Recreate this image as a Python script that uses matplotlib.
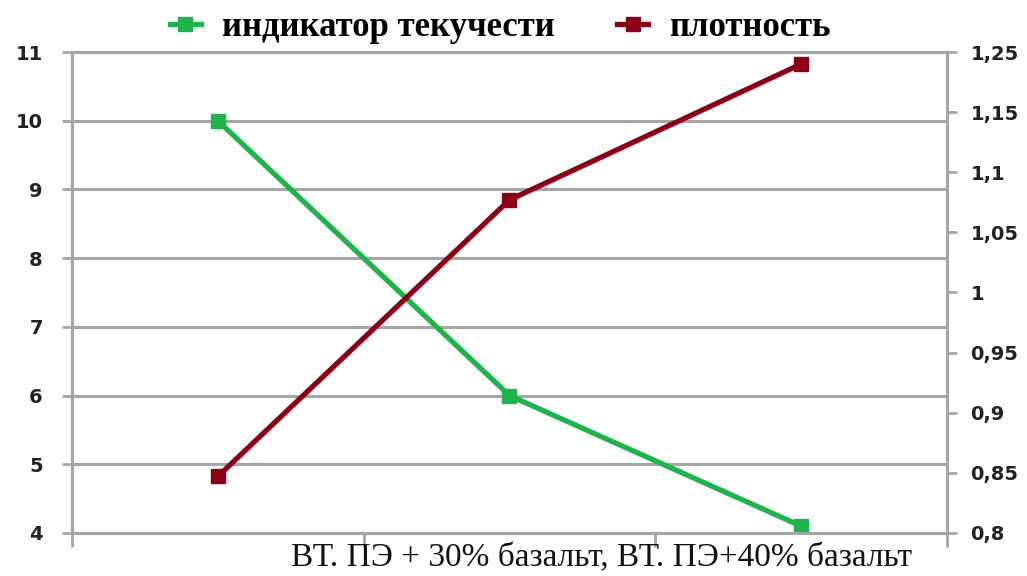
import numpy as np
import matplotlib.pyplot as plt

# data
categories = ["ВТ. ПЭ", "ВТ. ПЭ + 30% базальт", "ВТ. ПЭ+40% базальт"]
melt_index = [10.0, 6.0, 4.1]        # индикатор текучести (left axis)
density = [0.847, 1.077, 1.19]       # плотность (right axis)

left_ticks = [4, 5, 6, 7, 8, 9, 10, 11]
right_ticks = [0.8, 0.85, 0.9, 0.95, 1.0, 1.05, 1.1, 1.15, 1.2]
right_labels = ["0,8", "0,85", "0,9", "0,95", "1", "1,05", "1,1", "1,15", "1,25"]
xlabel_text = "ВТ. ПЭ + 30% базальт, ВТ. ПЭ+40% базальт"

green = '#1fb34b'
red = '#8c0018'
grey = '#a6a6a6'

fig = plt.figure(figsize=(10.27, 5.76), dpi=100)
ax = fig.add_axes([0.0701, 0.0747, 0.852, 0.835])
ax2 = ax.twinx()

x = np.arange(len(categories))
ax.plot(x, melt_index, color=green, lw=3.8, marker='s', ms=10,
        label='индикатор текучести', zorder=3)
ax2.plot(x, density, color=red, lw=3.8, marker='s', ms=10,
         label='плотность', zorder=3)

ax.set_xlim(-0.5, 2.5)
ax.set_ylim(4, 11)
ax2.set_ylim(0.8, 1.2)

ax.set_yticks(left_ticks)
ax.set_yticklabels([str(t) for t in left_ticks])
ax2.set_yticks(right_ticks)
ax2.set_yticklabels(right_labels)

ax.set_xticks([-0.5, 0.5, 1.5, 2.5])
ax.set_xticklabels([])

ax.grid(axis='y', color=grey, lw=2.2)
ax.set_axisbelow(True)

for a in (ax, ax2):
    for s in a.spines.values():
        s.set_color(grey)
        s.set_linewidth(2.2)
    a.tick_params(colors=grey, width=2, length=7)
    for lab in a.get_yticklabels():
        lab.set_color('#222222')
        lab.set_fontweight('bold')
        lab.set_fontsize(14)
ax.tick_params(axis='y', pad=14)
ax2.tick_params(axis='y', pad=10)
ax.tick_params(axis='x', length=10)

fig.text(0.586, 0.031, xlabel_text, family='Liberation Serif', fontsize=24,
         color='#111111', ha='center', va='center')

h1, l1 = ax.get_legend_handles_labels()
h2, l2 = ax2.get_legend_handles_labels()
leg = fig.legend(h1 + h2, l1 + l2, loc='center', bbox_to_anchor=(0.487, 0.952),
                 ncol=2, frameon=False, handlelength=0.9, handletextpad=0.6,
                 columnspacing=1.8,
                 prop={'family': 'Liberation Serif', 'weight': 'bold', 'size': 25})

fig.savefig('out.png', dpi=100)
